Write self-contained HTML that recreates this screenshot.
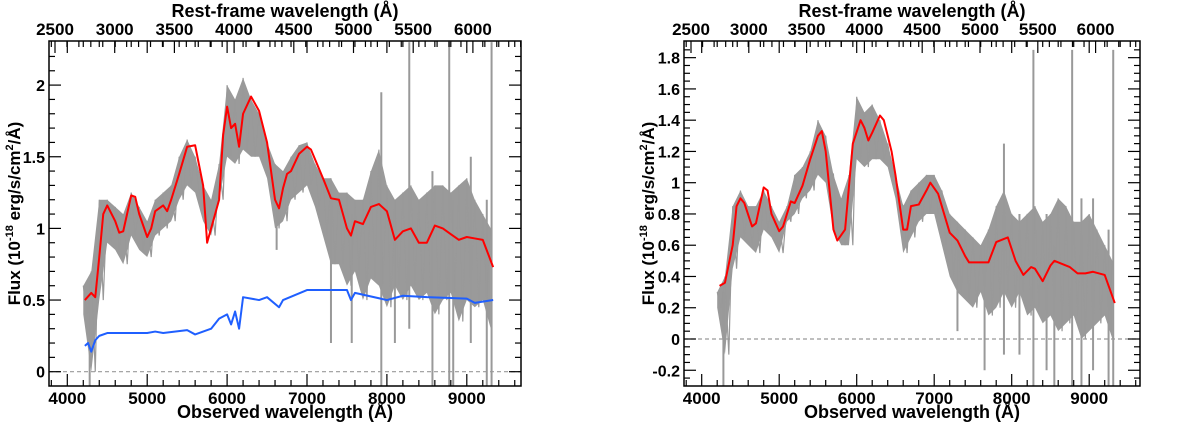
<!DOCTYPE html>
<html><head><meta charset="utf-8"><style>
html,body{margin:0;padding:0;background:#fff;width:1200px;height:425px;overflow:hidden}
svg text{font-family:"Liberation Sans",sans-serif;font-weight:bold;fill:#000}
</style></head><body>
<svg id="chart" width="1200" height="425" viewBox="0 0 1200 425"></svg>
<script>
const waveGrid=[4200,4300,4400,4500,4600,4700,4800,4900,5000,5100,5200,5300,5400,5500,5600,5700,5800,5900,6000,6100,6200,6300,6400,6500,6600,6700,6800,6900,7000,7100,7200,7300,7400,7500,7600,7700,7800,7900,8000,8100,8200,8300,8400,8500,8600,8700,8800,8900,9000,9100,9200,9300];
const leftUpper=[0.6,0.7,1.2,1.2,1.15,1.1,1.25,1.15,1.05,1.2,1.25,1.3,1.5,1.62,1.5,1.3,1.2,1.45,2.0,1.9,2.05,1.9,1.8,1.6,1.45,1.4,1.5,1.58,1.6,1.45,1.35,1.35,1.25,1.25,1.2,1.2,1.4,1.55,1.3,1.2,1.25,1.3,1.2,1.25,1.3,1.3,1.25,1.3,1.35,1.2,1.1,1.0];
const leftLower=[0.4,0.0,0.5,0.9,0.85,0.75,0.95,0.85,0.8,0.95,1.0,1.05,1.2,1.3,1.25,1.05,0.95,1.2,1.5,1.45,1.55,1.5,1.5,1.35,1.0,1.05,1.2,1.25,1.3,1.15,0.95,0.75,0.75,0.6,0.7,0.5,0.65,0.6,0.45,0.6,0.5,0.6,0.5,0.55,0.4,0.5,0.55,0.35,0.5,0.45,0.5,0.3];
const leftSpikeWave=[4280,6620,7300,7560,7930,8100,8280,8570,8780,8830,9050,9250,9310];
const leftSpikeHi=[0.5,1.2,1.2,1.1,1.95,1.2,2.3,1.4,2.3,1.2,1.5,1.2,2.3];
const leftSpikeLo=[-0.1,0.85,0.2,0.2,-0.1,0.2,0.3,-0.1,-0.1,-0.1,0.2,-0.1,-0.1];
const leftModelWave=[4220,4300,4350,4400,4450,4500,4600,4650,4700,4800,4850,4900,5000,5050,5100,5200,5250,5300,5400,5500,5600,5700,5750,5800,5900,5950,6000,6050,6100,6150,6200,6300,6400,6500,6600,6650,6700,6750,6800,6900,7000,7050,7200,7300,7400,7500,7550,7600,7700,7800,7900,8000,8100,8200,8300,8400,8500,8600,8700,8800,8900,9000,9100,9200,9330];
const leftModelFlux=[0.5,0.55,0.52,0.8,1.1,1.16,1.05,0.97,0.98,1.23,1.22,1.1,0.94,1.0,1.12,1.16,1.12,1.2,1.38,1.57,1.58,1.3,0.9,1.0,1.2,1.65,1.85,1.7,1.73,1.57,1.8,1.92,1.82,1.6,1.2,1.14,1.28,1.38,1.4,1.52,1.57,1.55,1.35,1.21,1.2,1.0,0.95,1.05,1.03,1.15,1.17,1.12,0.92,0.98,1.0,0.9,0.9,1.02,1.0,0.96,0.92,0.94,0.93,0.92,0.73];
const leftHostWave=[4220,4260,4300,4350,4400,4500,4700,5000,5100,5200,5500,5600,5800,5900,6000,6050,6100,6150,6200,6400,6500,6650,6700,7000,7500,7550,7600,8000,8200,8500,9000,9100,9330];
const leftHostFlux=[0.18,0.2,0.14,0.22,0.25,0.27,0.27,0.27,0.28,0.27,0.29,0.26,0.3,0.37,0.4,0.33,0.42,0.3,0.52,0.5,0.52,0.45,0.5,0.57,0.57,0.5,0.55,0.5,0.53,0.52,0.51,0.48,0.5];
const rightUpper=[0.3,0.4,0.85,0.95,0.85,0.85,0.95,0.85,0.75,0.85,1.05,1.1,1.2,1.4,1.3,1.05,0.9,1.05,1.55,1.45,1.5,1.4,1.25,1.05,0.85,0.95,1.0,1.05,1.05,0.95,0.8,0.75,0.7,0.65,0.6,0.7,0.85,0.95,0.8,0.75,0.8,0.85,0.75,0.8,0.9,0.85,0.75,0.75,0.8,0.7,0.6,0.5];
const rightLower=[0.2,-0.1,0.45,0.65,0.6,0.55,0.7,0.65,0.55,0.75,0.8,0.9,0.95,1.05,1.0,0.7,0.6,0.6,1.15,1.1,1.15,1.15,1.1,0.9,0.55,0.65,0.75,0.8,0.8,0.6,0.4,0.3,0.25,0.2,0.3,0.15,0.2,0.3,0.2,0.3,0.15,0.2,0.1,0.15,0.05,0.1,0.15,0.0,0.05,0.1,0.15,0.0];
const rightSpikeWave=[4280,7300,7650,7900,8100,8280,8450,8550,8780,8900,9050,9250,9310];
const rightSpikeHi=[0.3,0.7,0.6,1.25,0.8,1.85,0.8,0.6,1.85,0.9,0.9,0.7,1.85];
const rightSpikeLo=[-0.3,0.05,-0.2,-0.1,-0.1,-0.3,-0.2,-0.3,-0.3,-0.3,-0.2,-0.3,-0.3];
const rightModelWave=[4230,4300,4400,4450,4500,4550,4650,4700,4800,4850,4900,5000,5050,5150,5200,5300,5400,5500,5550,5600,5700,5750,5850,5950,6050,6100,6150,6200,6300,6350,6450,6500,6600,6650,6700,6800,6900,6950,7050,7200,7300,7400,7450,7700,7800,7900,7950,8050,8150,8250,8300,8400,8500,8550,8650,8750,8850,8950,9050,9200,9330];
const rightModelFlux=[0.34,0.36,0.6,0.85,0.9,0.87,0.72,0.74,0.97,0.95,0.8,0.69,0.72,0.88,0.87,0.98,1.15,1.3,1.33,1.2,0.7,0.63,0.7,1.25,1.4,1.35,1.27,1.32,1.43,1.4,1.2,1.05,0.7,0.7,0.85,0.86,0.95,1.0,0.93,0.68,0.63,0.53,0.49,0.49,0.62,0.64,0.65,0.5,0.41,0.46,0.45,0.37,0.47,0.5,0.48,0.46,0.42,0.42,0.43,0.41,0.23];
const bottomTicks=[4000,5000,6000,7000,8000,9000];
const topTicks=[2500,3000,3500,4000,4500,5000,5500,6000];
const leftYTicks=[0,0.5,1,1.5,2];
const leftYLabels=["0","0.5","1","1.5","2"];
const rightYTicks=[-0.2,0,0.2,0.4,0.6,0.8,1,1.2,1.4,1.6,1.8];
const rightYLabels=["-0.2","0","0.2","0.4","0.6","0.8","1","1.2","1.4","1.6","1.8"];

const NS="http://www.w3.org/2000/svg";
const svg=document.getElementById('chart');
function mk(tag,attrs,parent){const e=document.createElementNS(NS,tag);for(const k in attrs)e.setAttribute(k,attrs[k]);(parent||svg).appendChild(e);return e;}

function panel(cfg){
  const g=mk('g',{});
  
  
  const X=w=>cfg.x0+(w-4000)*cfg.xs;
  const Y=f=>cfg.y0-f*cfg.ys;
  const T=r=>cfg.t0+(r-2500)*cfg.ts;
  const L=cfg.L,R=cfg.R,Tp=41,B=386;
  const cid='clip'+cfg.name;
  const cp=mk('clipPath',{id:cid},g);mk('rect',{x:L,y:Tp,width:R-L,height:B-Tp},cp);
  const plot=mk('g',{'clip-path':'url(#'+cid+')'},g);
  const z=mk('line',{x1:L,x2:R,y1:Y(0),y2:Y(0),stroke:'#999','stroke-width':1.2,'stroke-dasharray':'4,3'},plot);
  
  
  let pts=cfg.up.map((v,i)=>X(waveGrid[i])+','+Y(v));
  for(let i=cfg.lo.length-1;i>=0;i--)pts.push(X(waveGrid[i])+','+Y(cfg.lo[i]));
  const band=mk('polygon',{points:pts.join(' '),fill:'#9a9a9a',stroke:'none'},plot);
  
  
  let zz=[];
  waveGrid.forEach((w,i)=>{zz.push(X(w)+','+Y(cfg.up[i]));if(i<waveGrid.length-1)zz.push(X(w+50)+','+Y(cfg.lo[i]));});
  const zl=mk('polyline',{points:zz.join(' '),fill:'none',stroke:'#999','stroke-width':1.2},plot);
  
  
  cfg.sw.forEach((w,i)=>{
    const s=mk('line',{x1:X(w),x2:X(w),y1:Y(cfg.sh[i]),y2:Y(cfg.sl[i]),stroke:'#999','stroke-width':2},plot);
    
    
  });
  cfg.lines.forEach(ln=>{
    const p=mk('polyline',{points:ln.w.map((w,i)=>X(w)+','+Y(ln.f[i])).join(' '),fill:'none',stroke:ln.c,'stroke-width':2,'stroke-linejoin':'round'},plot);
    
    
  });
  const fr=mk('rect',{x:L,y:Tp,width:R-L,height:B-Tp,fill:'none',stroke:'#000','stroke-width':1.5},g);
  
  
  const tk=mk('g',{stroke:'#000','stroke-width':1.2},g);
  for(let w=3800;w<=9800;w+=200){const x=X(w);if(x<L||x>R)continue;const l=w%1000===0?12:6;
    mk('line',{x1:x,x2:x,y1:B,y2:B-l},tk);mk('line',{x1:x,x2:x,y1:Tp,y2:Tp+l},tk);}
  for(let r=2500;r<=6400;r+=100){const x=T(r);if(x<L||x>R)continue;const l=r%500===0?12:6;mk('line',{x1:x,x2:x,y1:Tp,y2:Tp+l},tk);}
  for(let k=Math.ceil(cfg.ymin/cfg.minor);k*cfg.minor<=cfg.ymax;k++){const f=k*cfg.minor;const y=Y(f);if(y<Tp||y>B)continue;
    const maj=cfg.yt.some(t=>Math.abs(t-f)<1e-6);const l=maj?12:6;
    mk('line',{x1:L,x2:L+l,y1:y,y2:y},tk);mk('line',{x1:R,x2:R-l,y1:y,y2:y},tk);}
  bottomTicks.forEach(w=>{const t=mk('text',{x:X(w),y:B+18,'font-size':17,'text-anchor':'middle'},g);t.textContent=w;
    });
  topTicks.forEach(r=>{const t=mk('text',{x:T(r),y:35,'font-size':17,'text-anchor':'middle'},g);t.textContent=r;
    });
  cfg.yt.forEach((f,i)=>{const t=mk('text',{x:L-4,y:Y(f)+6,'font-size':16,'text-anchor':'end'},g);t.textContent=cfg.yl[i];
    });
  const xt=mk('text',{x:(L+R)/2,y:418,'font-size':18,'text-anchor':'middle'},g);xt.textContent='Observed wavelength (Å)';
  
  const tt=mk('text',{x:(L+R)/2,y:17,'font-size':18,'text-anchor':'middle'},g);tt.textContent='Rest-frame wavelength (Å)';
  
  const yt=mk('text',{x:0,y:0,'font-size':17,'text-anchor':'middle',transform:'translate('+cfg.ylx+','+((Tp+B)/2)+') rotate(-90)'},g);
  yt.innerHTML='Flux (10<tspan dy="-7" font-size="11">-18</tspan><tspan dy="7"> erg/s/cm</tspan><tspan dy="-7" font-size="11">2</tspan><tspan dy="7">/Å)</tspan>';
  
}
panel({name:'left-panel',L:49,R:521,x0:67.3,xs:0.0799,t0:55,ts:0.1194,y0:371.7,ys:143.3,ymin:-0.1,ymax:2.3,minor:0.1,
  yt:leftYTicks,yl:leftYLabels,ylx:20,up:leftUpper,lo:leftLower,sw:leftSpikeWave,sh:leftSpikeHi,sl:leftSpikeLo,
  lines:[{name:'host-galaxy-line',w:leftHostWave,f:leftHostFlux,c:'#1f5fff'},{name:'model-fit-line',w:leftModelWave,f:leftModelFlux,c:'#ff0000'}]});
panel({name:'right-panel',L:684,R:1140,x0:701.7,xs:0.0775,t0:691,ts:0.1156,y0:339,ys:156.3,ymin:-0.3,ymax:1.9,minor:0.05,
  yt:rightYTicks,yl:rightYLabels,ylx:654,up:rightUpper,lo:rightLower,sw:rightSpikeWave,sh:rightSpikeHi,sl:rightSpikeLo,
  lines:[{name:'model-fit-line',w:rightModelWave,f:rightModelFlux,c:'#ff0000'}]});
</script>
</body></html>
